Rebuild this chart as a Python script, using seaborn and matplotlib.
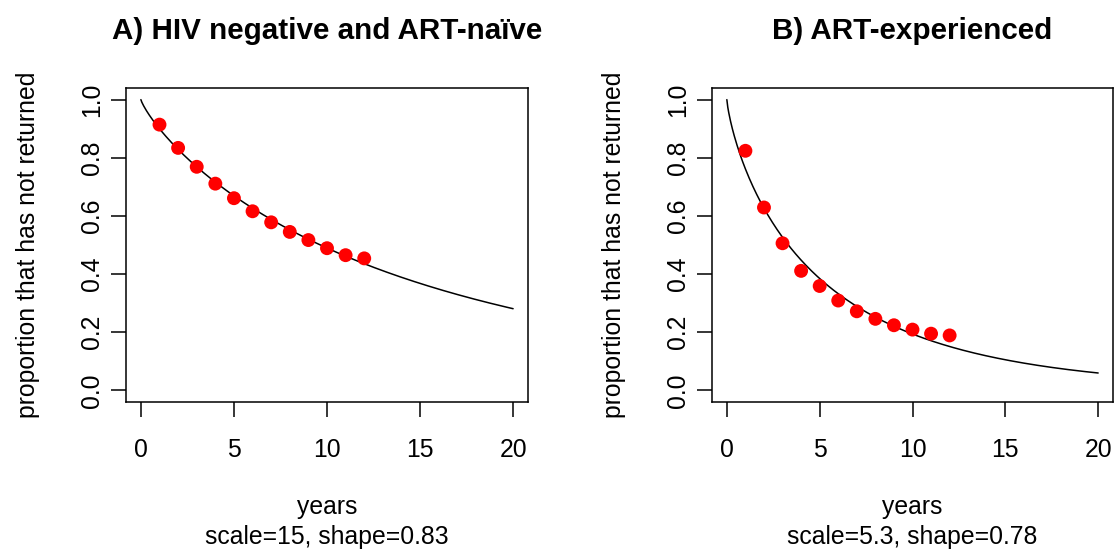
import numpy as np
import matplotlib
matplotlib.use("Agg")
import matplotlib.pyplot as plt
import seaborn as sns

# Observed proportion not yet returned, by year since last visit
years = np.arange(1, 13)
naive_obs = [0.914, 0.834, 0.769, 0.711, 0.661, 0.616, 0.578, 0.545, 0.517, 0.489, 0.465, 0.454]
experienced_obs = [0.824, 0.629, 0.506, 0.411, 0.359, 0.309, 0.272, 0.246, 0.224, 0.209, 0.195, 0.189]

# Fitted Weibull parameters for each group
naive_scale, naive_shape = 15, 0.83
experienced_scale, experienced_shape = 5.3, 0.78

titles = ["A) HIV negative and ART-na\u00efve", "B) ART-experienced"]
x_ticks = [0, 5, 10, 15, 20]
y_ticks = [0.0, 0.2, 0.4, 0.6, 0.8, 1.0]
y_tick_labels = ["0.0", "0.2", "0.4", "0.6", "0.8", "1.0"]

sns.set_style("white")
plt.rcParams["font.family"] = ["Liberation Sans", "DejaVu Sans"]
plt.rcParams["text.color"] = "black"
plt.rcParams["xtick.color"] = "black"
plt.rcParams["ytick.color"] = "black"
plt.rcParams["axes.labelcolor"] = "black"

W, H = 1114, 549
fig = plt.figure(figsize=(W / 100, H / 100), dpi=100)

panels = [
    (126, 528, titles[0], naive_obs, naive_scale, naive_shape),
    (712, 1113, titles[1], experienced_obs, experienced_scale, experienced_shape),
]
top_px, bottom_px = 88, 402
base_fs = 17.8

for left, right, title, obs, scale, shape in panels:
    ax = fig.add_axes([left / W, (H - bottom_px) / H, (right - left) / W, (bottom_px - top_px) / H])
    t = np.linspace(0, 20, 400)
    surv = np.exp(-(t / scale) ** shape)
    sns.lineplot(x=t, y=surv, ax=ax, color="black", linewidth=1.1)
    sns.scatterplot(x=years, y=obs, ax=ax, color="#ff0000", s=100, edgecolor="none", zorder=3)

    ax.set_xlim(-0.8, 20.8)
    ax.set_ylim(-0.04, 1.04)
    ax.set_xticks(x_ticks)
    ax.set_xticklabels([str(v) for v in x_ticks], fontsize=base_fs)
    ax.set_yticks(y_ticks)
    ax.set_yticklabels(y_tick_labels, fontsize=base_fs, rotation=90, va="center")
    ax.tick_params(axis="both", direction="out", length=11, width=1.1, color="black",
                   bottom=True, left=True, top=False, right=False)
    ax.tick_params(axis="x", pad=15)
    ax.tick_params(axis="y", pad=5)
    for sp in ax.spines.values():
        sp.set_visible(True)
        sp.set_color("black")
        sp.set_linewidth(1.1)

    h = bottom_px - top_px
    ax.text(0.5, 1 + (top_px - 39) / h, title, transform=ax.transAxes, ha="center",
            va="baseline", fontsize=21.3, fontweight="bold")
    ax.text(0.5, -(507 - bottom_px) / h, "years", transform=ax.transAxes, ha="center",
            va="center", fontsize=base_fs)
    ax.text(0.5, -(537 - bottom_px) / h, f"scale={scale}, shape={shape}", transform=ax.transAxes,
            ha="center", va="center", fontsize=base_fs)
    ax.text(-98 / (right - left), 0.5, "proportion that has not returned",
            transform=ax.transAxes, rotation=90, ha="center", va="center", fontsize=base_fs)

fig.savefig("out.png", dpi=100)
